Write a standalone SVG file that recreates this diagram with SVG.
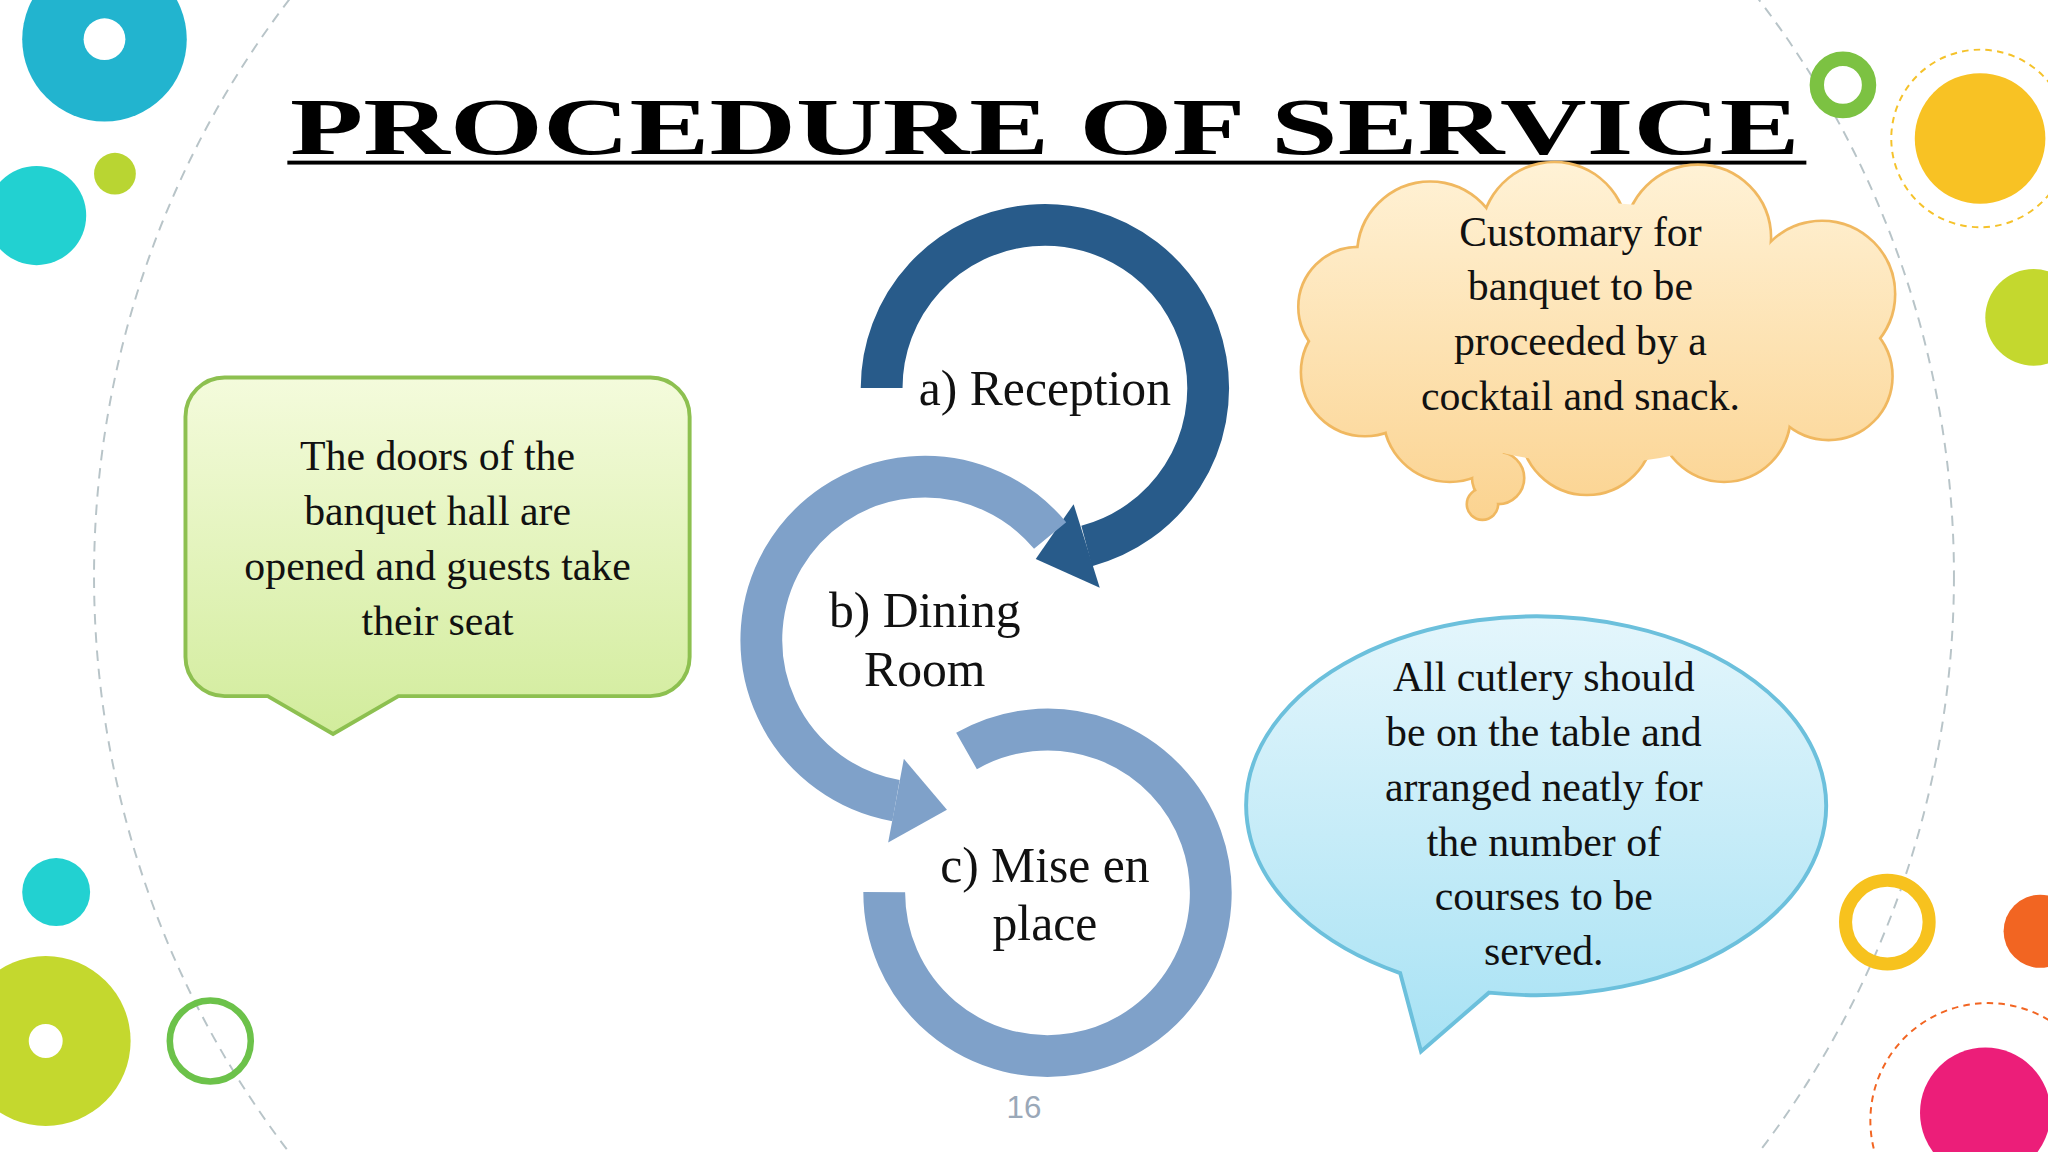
<svg xmlns="http://www.w3.org/2000/svg" width="2048" height="1152" viewBox="0 0 2048 1152">
<defs>
<linearGradient id="gg" x1="0" y1="0" x2="0" y2="1"><stop offset="0" stop-color="#f4fbdc"/><stop offset="1" stop-color="#d2ec9c"/></linearGradient>
<linearGradient id="og" gradientUnits="userSpaceOnUse" x1="0" y1="125" x2="0" y2="400"><stop offset="0" stop-color="#fff2d6"/><stop offset="1" stop-color="#fbd390"/></linearGradient>
<linearGradient id="bg" x1="0" y1="0" x2="0" y2="1"><stop offset="0" stop-color="#e4f6fc"/><stop offset="1" stop-color="#a8e2f4"/></linearGradient>
<style>
.t{font-family:"Liberation Serif",serif;font-size:32px;fill:#111;text-anchor:middle}
.l{font-family:"Liberation Serif",serif;font-size:38px;fill:#111;text-anchor:middle}
.ci{fill:url(#og)}
</style>
</defs>
<rect width="2048" height="1152" fill="#fff"/>
<g transform="scale(1.30612)">
<ellipse cx="784" cy="441" rx="712" ry="720" fill="none" stroke="#b8c4c8" stroke-width="1.5" stroke-dasharray="8 6"/>
<g id="decor">
<circle cx="80" cy="30" r="63" fill="#22b4cf"/><circle cx="80" cy="30" r="16" fill="#fff"/>
<circle cx="28" cy="165" r="38" fill="#22d1d1"/><circle cx="88" cy="133" r="16" fill="#b9d532"/>
<circle cx="43" cy="683" r="26" fill="#22d1d1"/>
<circle cx="35" cy="797" r="65" fill="#c4d82e"/><circle cx="35" cy="797" r="13" fill="#fff"/>
<circle cx="161" cy="797" r="31" fill="none" stroke="#6cc24a" stroke-width="5"/>
<circle cx="1411" cy="65" r="20" fill="none" stroke="#7cc242" stroke-width="11"/>
<circle cx="1516" cy="106" r="68" fill="none" stroke="#f5c22a" stroke-width="1.5" stroke-dasharray="5 4"/>
<circle cx="1516" cy="106" r="50" fill="#f8c224"/>
<circle cx="1557" cy="243" r="37" fill="#c4d82e"/>
<circle cx="1445" cy="706" r="32" fill="none" stroke="#f7c21e" stroke-width="10"/>
<circle cx="1562" cy="713" r="28" fill="#f26522"/>
<circle cx="1522" cy="858" r="90" fill="none" stroke="#f26522" stroke-width="1.5" stroke-dasharray="5 4"/>
<circle cx="1520" cy="852" r="50" fill="#ec1e79"/>
</g>
<g id="title">
<text x="222" y="118" textLength="1156" lengthAdjust="spacingAndGlyphs" style="font-family:'Liberation Serif',serif;font-weight:bold;font-size:62px;fill:#000">PROCEDURE OF SERVICE</text>
<rect x="220" y="123" width="1163" height="3" fill="#000"/>
</g>
<g id="connectors" fill="none" stroke-width="32">
<path d="M675,297 A125,125 0 1 1 832,418" stroke="#285b8a"/>
<polygon points="822,386 842,450 793,428" fill="#285b8a" stroke="none"/>
<path d="M804,410 A125,125 0 1 0 686,613" stroke="#7fa1c9"/>
<polygon points="692,581 680,645 725,620" fill="#7fa1c9" stroke="none"/>
<path d="M740,575 A125,125 0 1 1 677,683" stroke="#7fa1c9"/>
</g>
<g id="a"><text class="l" x="800" y="310">a) Reception</text></g>
<g id="b"><text class="l" x="708" y="480">b) Dining</text><text class="l" x="708" y="525">Room</text></g>
<g id="c"><text class="l" x="800" y="675">c) Mise en</text><text class="l" x="800" y="720">place</text></g>
<g id="green">
<path d="M172,289 H498 A30,30 0 0 1 528,319 V503 A30,30 0 0 1 498,533 H305 L255,562 L205,533 H172 A30,30 0 0 1 142,503 V319 A30,30 0 0 1 172,289 Z" fill="url(#gg)" stroke="#8dc050" stroke-width="3"/>
<text class="t" x="335" y="360">The doors of the</text>
<text class="t" x="335" y="402">banquet hall are</text>
<text class="t" x="335" y="444">opened and guests take</text>
<text class="t" x="335" y="486">their seat</text>
</g>
<g id="cloud">
<g fill="none" stroke="#f0b860" stroke-width="4">
<circle cx="1095" cy="195" r="55"/><circle cx="1190" cy="180" r="55"/><circle cx="1300" cy="182" r="55"/><circle cx="1395" cy="225" r="55"/><circle cx="1400" cy="288" r="48"/><circle cx="1320" cy="318" r="50"/><circle cx="1215" cy="328" r="50"/><circle cx="1110" cy="318" r="50"/><circle cx="1045" cy="285" r="48"/><circle cx="1040" cy="235" r="45"/>
<circle cx="1147" cy="366" r="19"/><circle cx="1135" cy="386" r="11"/>
</g>
<g class="ci">
<circle cx="1095" cy="195" r="55"/><circle cx="1190" cy="180" r="55"/><circle cx="1300" cy="182" r="55"/><circle cx="1395" cy="225" r="55"/><circle cx="1400" cy="288" r="48"/><circle cx="1320" cy="318" r="50"/><circle cx="1215" cy="328" r="50"/><circle cx="1110" cy="318" r="50"/><circle cx="1045" cy="285" r="48"/><circle cx="1040" cy="235" r="45"/><ellipse cx="1220" cy="255" rx="175" ry="100"/>
<circle cx="1147" cy="366" r="19"/><circle cx="1135" cy="386" r="11"/>
</g>
<text class="t" x="1210" y="188">Customary for</text>
<text class="t" x="1210" y="230">banquet to be</text>
<text class="t" x="1210" y="272">proceeded by a</text>
<text class="t" x="1210" y="314">cocktail and snack.</text>
</g>
<g id="speech">
<path d="M1072,745 A222,145 0 1 1 1140,760 L1088,805 Z" fill="url(#bg)" stroke="#6cc0dc" stroke-width="3"/>
<text class="t" x="1182" y="529">All cutlery should</text>
<text class="t" x="1182" y="571">be on the table and</text>
<text class="t" x="1182" y="613">arranged neatly for</text>
<text class="t" x="1182" y="655">the number of</text>
<text class="t" x="1182" y="697">courses to be</text>
<text class="t" x="1182" y="739">served.</text>
</g>
<text x="784" y="856" style="font-family:'Liberation Sans',sans-serif;font-size:24px;fill:#9aa8b8;text-anchor:middle">16</text>
</g>
</svg>
